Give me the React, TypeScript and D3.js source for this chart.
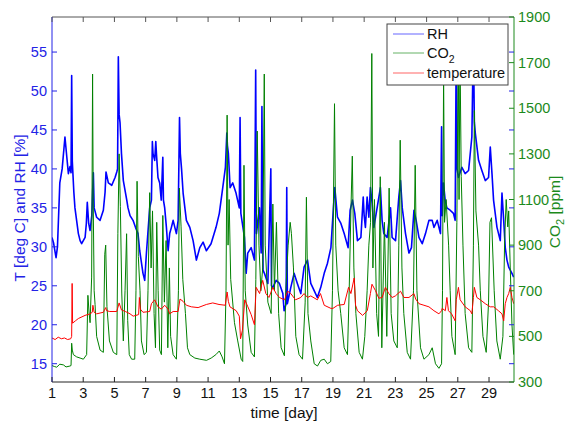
import React from "react";
import * as d3 from "d3";

const rhData: [number, number][] = [
  [1.0,31.2],[1.1,30.5],[1.26,28.6],[1.35,30],[1.5,38.2],[1.65,40],[1.83,44.1],[1.95,41.5],[2.05,39.4],[2.15,40.3],[2.22,39.5],[2.26,52],[2.3,41],[2.4,37],[2.47,35],[2.69,31.7],[2.8,30.8],[2.9,30.4],[3.12,31.2],[3.2,33],[3.26,35.7],[3.35,33],[3.44,32.1],[3.55,34],[3.6,36.9],[3.65,39.5],[3.7,35],[3.86,33.8],[4.08,33.4],[4.29,34.7],[4.4,37],[4.46,39.6],[4.61,38.2],[4.83,37.9],[5.04,38.9],[5.15,39.6],[5.2,40],[5.25,54.4],[5.3,47],[5.36,45.9],[5.45,42],[5.57,38.5],[5.79,36],[5.87,35],[6.0,34],[6.19,33.4],[6.35,32.5],[6.51,31.7],[6.62,29.5],[6.83,26.6],[6.94,25.7],[7.05,29.2],[7.26,35],[7.37,36],[7.43,43.5],[7.47,42],[7.58,41.1],[7.65,43.5],[7.69,42],[7.79,38.9],[7.9,38.2],[8.0,36],[8.1,41.5],[8.14,36],[8.22,35],[8.33,32.5],[8.44,29.5],[8.54,31.7],[8.65,32.5],[8.76,33.4],[8.87,32.5],[8.97,31.7],[9.08,33.4],[9.17,46.6],[9.22,42],[9.3,40],[9.4,36.9],[9.61,33.4],[9.83,32.5],[10.04,30.8],[10.25,28.3],[10.47,29.9],[10.68,30.6],[10.89,29.5],[11.19,30.4],[11.51,32.5],[11.72,34.3],[11.94,37.6],[12.11,40.2],[12.2,44.6],[12.24,43],[12.3,42],[12.41,37.6],[12.58,38.2],[12.79,36.9],[13.0,35],[13.05,46.6],[13.1,34.3],[13.33,31.2],[13.44,26.6],[13.54,29.2],[13.76,29.9],[13.97,28.3],[14.05,52.7],[14.1,31.7],[14.29,35],[14.4,29.2],[14.45,48],[14.52,27],[14.61,26.6],[14.83,25.3],[15.02,40],[15.06,25],[15.15,24.8],[15.36,25.7],[15.57,25.3],[15.79,24],[15.87,21.8],[16.0,22.7],[16.04,37.6],[16.08,22.7],[16.3,24.8],[16.51,26.6],[16.72,25.3],[16.94,24],[17.15,27.4],[17.37,28.3],[17.58,25.3],[17.79,24.4],[18.0,23.5],[18.22,24.8],[18.44,26.6],[18.65,27.9],[18.87,29.9],[19.03,35],[19.12,37.6],[19.29,33.8],[19.51,33],[19.72,31.7],[19.97,29.9],[20.1,34.7],[20.25,36],[20.4,34.3],[20.57,30.8],[20.79,31.2],[20.94,36.4],[21.0,34],[21.08,32.5],[21.19,36.4],[21.3,33.8],[21.4,37.6],[21.51,35.6],[21.62,32.5],[21.83,35],[22.04,37.6],[22.15,33.4],[22.26,31.7],[22.47,31.2],[22.69,35],[22.79,31.2],[23.01,30.8],[23.22,36.4],[23.33,38.5],[23.44,35],[23.65,31.7],[23.87,29.2],[24.03,29.9],[24.19,34.7],[24.33,33.4],[24.51,31.2],[24.72,30.4],[24.93,31.7],[25.15,33.4],[25.36,33.4],[25.47,32.5],[25.68,33.4],[25.89,31.7],[25.96,45.4],[26.0,34],[26.08,38.2],[26.19,36],[26.3,35],[26.51,34.7],[26.72,34.3],[26.83,33.4],[26.9,57],[26.95,40],[27.04,38.9],[27.26,40.2],[27.47,39.4],[27.69,39.8],[27.9,44.1],[28.0,57],[28.06,46],[28.12,44.6],[28.33,41.1],[28.54,39.8],[28.76,38.5],[28.97,38.9],[29.08,42.8],[29.19,39.4],[29.29,36],[29.51,32.5],[29.72,30.8],[29.83,36.9],[29.94,33.4],[30.04,29.9],[30.15,28.3],[30.26,27.4],[30.47,26.6],[30.58,26.1]
];

const tempData: [number, number][] = [
  [1.0,18.3],[1.2,18.1],[1.4,18.4],[1.6,18.2],[1.8,18.3],[2.0,18.1],[2.2,18.2],[2.26,18.5],[2.29,25.3],[2.32,20.2],[2.5,20.5],[2.69,20.8],[3.12,21.2],[3.44,21.4],[3.58,21.6],[3.62,22.5],[3.7,21.6],[3.86,21.4],[4.29,21.6],[4.44,22.2],[4.5,21.8],[4.7,21.7],[5.15,21.7],[5.3,22.8],[5.45,21.9],[5.7,21.7],[6.0,21.4],[6.2,21.1],[6.55,21.3],[6.6,23.5],[6.66,22],[6.83,21.6],[7.26,21.7],[7.37,22.7],[7.58,23.2],[7.79,22.3],[8.0,22],[8.22,22.5],[8.44,22],[8.54,21.4],[8.76,21.7],[9.08,21.7],[9.2,23.3],[9.4,23],[9.61,22.5],[9.93,22.3],[10.36,22.2],[10.89,22.6],[11.3,22.8],[11.7,22.6],[12.1,22.5],[12.22,24.2],[12.3,23],[12.4,22.3],[12.8,21.8],[13.0,21.1],[13.08,18.2],[13.2,19.3],[13.35,23.2],[13.55,22.3],[13.76,21.3],[13.97,20],[14.08,24.8],[14.3,24],[14.5,25.7],[14.7,24],[14.9,23.5],[15.15,24.8],[15.36,24],[15.57,23.5],[15.9,23.2],[16.1,24.3],[16.3,24],[16.6,23.2],[16.94,23.5],[17.15,24],[17.37,23.5],[17.58,23.7],[18.0,23.2],[18.2,24],[18.44,22.5],[18.87,22.1],[19.0,22.1],[19.3,22.5],[19.72,22.6],[20.0,24.8],[20.15,24],[20.36,26],[20.45,22.5],[20.57,21.8],[20.9,21.2],[21.2,21.8],[21.4,24],[21.5,25.2],[21.72,24.4],[21.94,23.4],[22.15,23.5],[22.36,24.8],[22.58,24],[22.79,23.5],[23.0,23.7],[23.33,24.3],[23.55,23.5],[23.87,23.5],[24.19,24],[24.3,23.3],[24.51,22.7],[24.83,22.5],[25.15,22.3],[25.47,21.8],[25.79,21.4],[25.96,21.8],[26.0,22.1],[26.2,21.8],[26.3,23.5],[26.4,21.8],[26.6,21.4],[26.83,20.5],[26.9,23.2],[27.04,24.8],[27.15,23.2],[27.47,22.3],[27.8,21.8],[27.9,21.4],[28.0,23.5],[28.06,24.8],[28.22,23.5],[28.44,23.2],[28.76,22.7],[29.08,22.3],[29.3,22.3],[29.6,21.8],[29.83,21.4],[29.94,20.5],[30.04,22.7],[30.15,23.5],[30.26,24],[30.36,24.8],[30.47,23.5],[30.58,22.7]
];

const co2Data: [number, number][] = [
  [1.0,372],[1.15,368],[1.3,365],[1.5,378],[1.73,375],[1.9,366],[2.15,370],[2.22,372],[2.26,470],[2.3,440],[2.37,420],[2.58,410],[2.8,405],[3.01,400],[3.22,420],[3.3,680],[3.38,600],[3.44,560],[3.54,760],[3.6,1650],[3.64,1100],[3.7,700],[3.76,640],[3.86,500],[4.08,440],[4.29,430],[4.38,860],[4.44,900],[4.52,630],[4.68,480],[4.93,430],[5.15,420],[5.22,950],[5.3,1300],[5.38,1070],[5.47,690],[5.57,480],[5.68,700],[5.78,950],[5.85,570],[5.95,420],[6.1,400],[6.3,400],[6.38,700],[6.45,1180],[6.53,850],[6.64,700],[6.73,480],[6.9,420],[7.05,430],[7.15,700],[7.26,1130],[7.35,800],[7.44,1050],[7.54,600],[7.63,450],[7.71,1000],[7.8,700],[7.9,440],[8.01,420],[8.1,1030],[8.2,650],[8.31,920],[8.42,450],[8.52,800],[8.6,500],[8.76,420],[8.97,400],[9.1,700],[9.16,1150],[9.27,980],[9.38,750],[9.55,600],[9.68,450],[9.83,420],[10.15,405],[10.47,400],[10.9,395],[11.2,405],[11.5,420],[11.72,436],[11.9,410],[12.05,380],[12.15,700],[12.22,1470],[12.28,900],[12.35,1100],[12.45,750],[12.69,560],[12.9,480],[13.12,400],[13.22,390],[13.3,1250],[13.38,700],[13.54,550],[13.76,430],[13.97,410],[14.06,750],[14.15,1400],[14.26,900],[14.38,700],[14.5,800],[14.6,1650],[14.66,900],[14.83,650],[15.04,600],[15.15,1080],[15.25,700],[15.38,1000],[15.52,600],[15.68,450],[15.89,415],[15.98,700],[16.13,900],[16.26,1000],[16.34,950],[16.47,800],[16.62,500],[16.83,420],[17.05,400],[17.22,650],[17.3,1110],[17.4,600],[17.58,480],[17.8,380],[18.01,370],[18.22,395],[18.44,400],[18.65,380],[18.86,390],[18.97,700],[19.1,1520],[19.18,900],[19.33,700],[19.5,600],[19.72,450],[19.93,420],[20.04,700],[20.15,1050],[20.24,1290],[20.34,800],[20.47,600],[20.68,430],[20.89,400],[21.04,500],[21.19,700],[21.3,900],[21.41,1000],[21.49,1740],[21.56,800],[21.66,1100],[21.8,600],[21.92,500],[22.03,1200],[22.13,450],[22.3,1000],[22.45,500],[22.6,1150],[22.73,600],[22.9,480],[23.12,450],[23.22,900],[23.31,1360],[23.42,800],[23.54,600],[23.76,430],[23.97,400],[24.16,700],[24.27,1250],[24.38,700],[24.61,450],[24.83,400],[25.15,420],[25.36,450],[25.57,380],[25.79,360],[25.96,380],[26.02,700],[26.09,1650],[26.15,1000],[26.25,1100],[26.41,900],[26.51,700],[26.62,500],[26.83,420],[26.94,1000],[27.03,1780],[27.08,1100],[27.14,1750],[27.22,1200],[27.33,900],[27.47,600],[27.69,450],[27.9,430],[28.0,900],[28.06,1490],[28.16,1050],[28.33,900],[28.44,700],[28.61,500],[28.82,430],[28.97,650],[29.06,1000],[29.16,1020],[29.33,700],[29.5,480],[29.72,400],[29.89,500],[30.0,920],[30.1,1100],[30.2,980],[30.26,1050],[30.36,800],[30.47,550],[30.58,420]
];

const xTicks = [1, 3, 5, 7, 9, 11, 13, 15, 17, 19, 21, 23, 25, 27, 29];
const leftTicks = [15, 20, 25, 30, 35, 40, 45, 50, 55];
const rightTicks = [300, 500, 700, 900, 1100, 1300, 1500, 1700, 1900];
const legendItems = [
  { key: "RH", color: "#0000ff" },
  { key: "CO2", color: "#008000" },
  { key: "temperature", color: "#ff0000" },
];

const W = 566, H = 424;
const L = 52, R = 514, T = 17, B = 382;
const FONT = "'Liberation Sans', Arial, sans-serif";
const BLUE = "#0000ff";
const GREEN = "#008000";
const RED = "#ff0000";
const LBLUE = "#2323e6";
const LGREEN = "#1c8a1c";

export default function App() {
  const x = d3.scaleLinear().domain([1, 30.6]).range([L, R]);
  const yL = d3.scaleLinear().domain([12.65, 59.5]).range([B, T]);
  const yR = d3.scaleLinear().domain([300, 1900]).range([B, T]);
  const lineL = d3.line<[number, number]>().x((d) => x(d[0])).y((d) => yL(d[1]));
  const lineR = d3.line<[number, number]>().x((d) => x(d[0])).y((d) => yR(d[1]));
  const tk = 5;
  const fs = 14.5;
  return (
    <svg width={W} height={H} style={{ position: "absolute", left: 0, top: 0, background: "#fff" }} fontFamily={FONT}>
      <rect x={0} y={0} width={W} height={H} fill="#fff" />
      <defs>
        <clipPath id="plot">
          <rect x={L} y={T} width={R - L} height={B - T} />
        </clipPath>
      </defs>
      <g clipPath="url(#plot)">
        <path d={lineL(rhData) || ""} fill="none" stroke={BLUE} strokeWidth={1.6} strokeLinejoin="round" />
        <path d={lineR(co2Data) || ""} fill="none" stroke={GREEN} strokeWidth={1} strokeLinejoin="round" />
        <path d={lineL(tempData) || ""} fill="none" stroke={RED} strokeWidth={1} strokeLinejoin="round" />
      </g>
      <line x1={L} x2={R} y1={T} y2={T} stroke="#555" strokeWidth={1} />
      <line x1={L} x2={R} y1={B} y2={B} stroke="#222" strokeWidth={1} />
      <line x1={L} x2={L} y1={T} y2={B} stroke={LBLUE} strokeWidth={1} />
      <line x1={R} x2={R} y1={T} y2={B} stroke={LGREEN} strokeWidth={1} />
      {xTicks.map((t) => (
        <g key={"x" + t}>
          <line x1={x(t)} x2={x(t)} y1={B} y2={B - tk} stroke="#222" />
          <line x1={x(t)} x2={x(t)} y1={T} y2={T + tk} stroke="#555" />
          <text x={x(t)} y={398} textAnchor="middle" fontSize={fs} fill="#111">{t}</text>
        </g>
      ))}
      {leftTicks.map((t) => (
        <g key={"l" + t}>
          <line x1={L} x2={L + tk} y1={yL(t)} y2={yL(t)} stroke={LBLUE} />
          <line x1={R} x2={R - tk} y1={yL(t)} y2={yL(t)} stroke={LBLUE} />
          <text x={47} y={yL(t) + 5} textAnchor="end" fontSize={fs} fill={LBLUE}>{t}</text>
        </g>
      ))}
      {rightTicks.map((t) => (
        <g key={"r" + t}>
          <line x1={R} x2={R - tk} y1={yR(t)} y2={yR(t)} stroke={LGREEN} />
          <text x={518} y={yR(t) + 5} textAnchor="start" fontSize={fs} fill={LGREEN}>{t}</text>
        </g>
      ))}
      <text transform={`translate(25,${208}) rotate(-90)`} textAnchor="middle" fontSize={15.5} fill={LBLUE}>
        T [deg C] and RH [%]
      </text>
      <text transform={`translate(560,${212}) rotate(-90)`} textAnchor="middle" fontSize={15.5} fill={LGREEN}>
        CO<tspan fontSize={11} dy={4}>2</tspan><tspan dy={-4}> [ppm]</tspan>
      </text>
      <text x={284} y={418} textAnchor="middle" fontSize={15.5} fill="#111">time [day]</text>
      <rect x={387} y={24} width={121} height={61} fill="#fff" stroke="#444" strokeWidth={1} />
      {legendItems.map((it, i) => {
        const ly = [34, 53, 73][i];
        return (
          <g key={it.key}>
            <line x1={393} x2={424} y1={ly} y2={ly} stroke={it.color} strokeWidth={1} opacity={0.6} />
            <text x={427} y={ly + 5} fontSize={fs} fill="#111">
              {it.key === "CO2" ? (
                <>CO<tspan fontSize={10.5} dy={5}>2</tspan></>
              ) : it.key}
            </text>
          </g>
        );
      })}
    </svg>
  );
}
